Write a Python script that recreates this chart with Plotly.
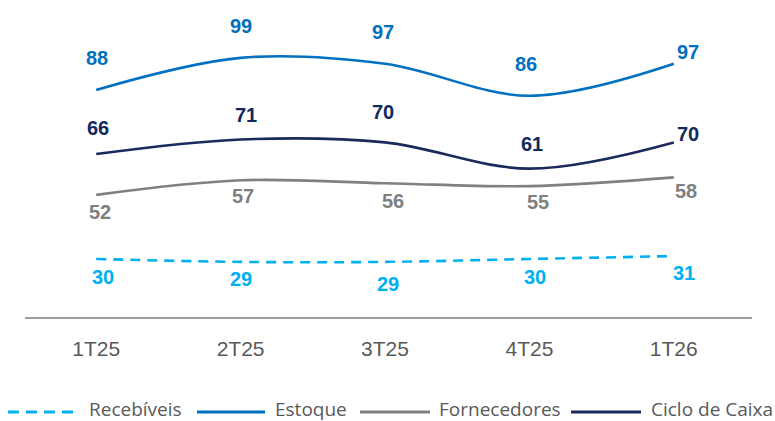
import plotly.graph_objects as go

categories = ["1T25", "2T25", "3T25", "4T25", "1T26"]
recebiveis = [30, 29, 29, 30, 31]
estoque = [88, 99, 97, 86, 97]
fornecedores = [52, 57, 56, 55, 58]
ciclo = [66, 71, 70, 61, 70]
series_names = ["Recebíveis", "Estoque", "Fornecedores", "Ciclo de Caixa"]

# styles
line_colors = ["#00B0F0", "#0070C0", "#808080", "#1B2A5C"]
label_colors = ["#00B0F0", "#0070C0", "#7F7F7F", "#112A5E"]
dashes = ["10px,7px", "solid", "solid", "solid"]
# label offsets in pixels (x, y) per series/point
label_dx = [[7, 0, 3, 6, 10], [1, 0, -2, -3, 14], [4, 2, 8, 9, 12], [2, 5, -2, 3, 14]]
label_dy = [[-18, -17, -22, -18, -17], [32, 31.5, 31.6, 32, 12],
            [-17.4, -15.4, -17.5, -15.5, -13.6], [25.7, 24.5, 30, 24.4, 8.4]]

W, H = 775, 421
ML, MR, MT, MB = 24, 29, 27, 103
PW = W - ML - MR
PH = H - MT - MB


def px(x):
    return (x - ML) / PW


def py(y):
    return (H - MB - y) / PH


fig = go.Figure()
all_series = [recebiveis, estoque, fornecedores, ciclo]
for i, vals in enumerate(all_series):
    fig.add_trace(go.Scatter(
        x=categories, y=vals, mode="lines", name=series_names[i],
        line=dict(color=line_colors[i], width=2.6, dash=dashes[i], shape="spline", smoothing=1.0),
        showlegend=False, hoverinfo="skip",
    ))
    for j, v in enumerate(vals):
        fig.add_annotation(
            x=categories[j], y=v, text=str(v), showarrow=False,
            xshift=label_dx[i][j], yshift=label_dy[i][j],
            font=dict(family="Liberation Sans, Arial, sans-serif", size=20, color=label_colors[i],
                      weight="bold"),
            xanchor="center", yanchor="middle",
        )

# axis baseline
fig.add_shape(type="line", xref="paper", yref="paper", x0=px(25), x1=px(752), y0=0, y1=0,
              line=dict(color="#7F7F7F", width=1.6))

# custom legend
leg_y = py(409)
leg_lines = [(8, 78), (197, 265), (360, 430), (571, 641)]
leg_text_x = [87, 273, 437, 649]
for i in range(4):
    x0, x1 = leg_lines[i]
    fig.add_shape(type="line", xref="paper", yref="paper", x0=px(x0), x1=px(x1),
                  y0=py(412), y1=py(412),
                  line=dict(color=line_colors[i], width=2.8,
                            dash="11px,7px" if dashes[i] != "solid" else "solid"))
    fig.add_annotation(xref="paper", yref="paper", x=px(leg_text_x[i]), y=leg_y,
                       text=series_names[i], showarrow=False, xanchor="left", yanchor="middle",
                       font=dict(family="Open Sans, sans-serif", size=19, color="#595959"))

fig.update_layout(
    width=W, height=H,
    margin=dict(l=ML, r=MR, t=MT, b=MB),
    paper_bgcolor="white", plot_bgcolor="white",
    showlegend=False,
    xaxis=dict(type="category", range=[-0.5, 4.5], showgrid=False, zeroline=False, showline=False,
               ticks="", ticklabelstandoff=16,
               tickfont=dict(family="Liberation Sans, Arial, sans-serif", size=21, color="#595959")),
    yaxis=dict(range=[9.75, 109.6], visible=False, showgrid=False, zeroline=False),
)

fig.write_html("out.html", config={"displayModeBar": False},
               post_script="document.body.style.margin='0';document.body.style.overflow='hidden';")
